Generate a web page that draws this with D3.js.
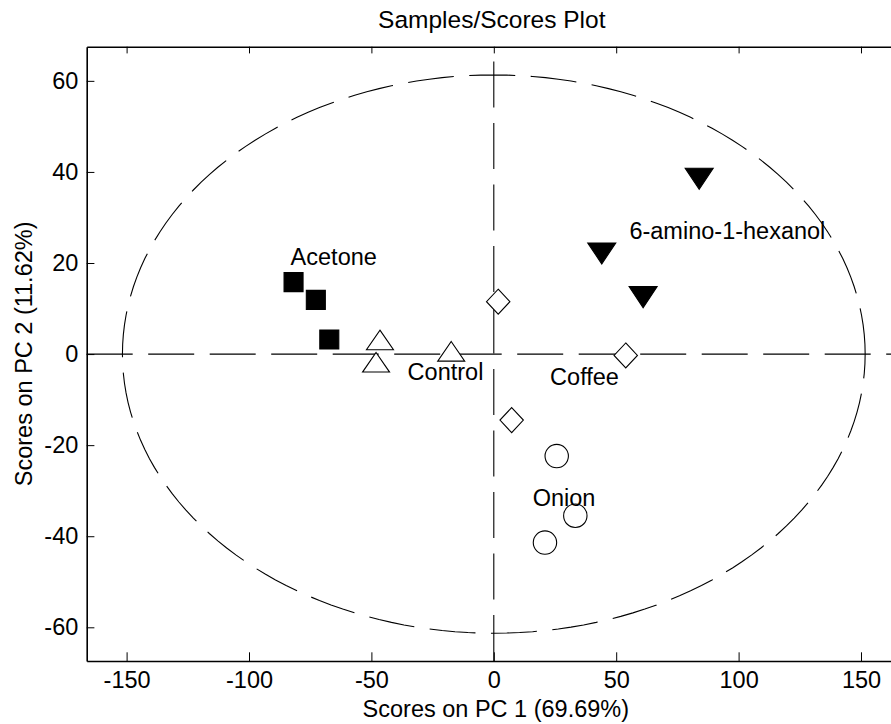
<!DOCTYPE html>
<html>
<head>
<meta charset="utf-8">
<script src="https://cdn.jsdelivr.net/npm/d3@7"></script>
<style>
  body { margin: 0; background: #fff; overflow: hidden; }
  svg { display: block; font-family: "Liberation Sans", Arial, sans-serif; }
</style>
</head>
<body>
<div id="scores"></div>
<script>
// sample groups and their PCA scores
const groups = ["Acetone", "Control", "Coffee", "Onion", "6-amino-1-hexanol"];
const acetonePC1 = [-81.8, -72.7, -67.2];
const acetonePC2 = [15.8, 11.9, 3.2];
const controlPC1 = [-46.5, -48.1, -17.4];
const controlPC2 = [3.1, -1.8, 0.6];
const coffeePC1 = [1.8, 53.9, 7.3];
const coffeePC2 = [11.5, -0.3, -14.5];
const onionPC1 = [25.7, 33.3, 20.9];
const onionPC2 = [-22.4, -35.5, -41.4];
const aminoPC1 = [83.9, 44.1, 61.0];
const aminoPC2 = [38.5, 22.1, 12.5];

// where each group name is written (data units, text start / baseline)
const labelPC1 = [-83.0, -35.2, 23.0, 15.9, 55.4];
const labelPC2 = [19.6, -5.6, -6.7, -33.4, 25.3];

// 95% confidence ellipse radii
const ellipsePC1 = 151.7, ellipsePC2 = 61.3;

const xTicks = [-150, -100, -50, 0, 50, 100, 150];
const yTicks = [-60, -40, -20, 0, 20, 40, 60];

const margin = {top: 46.7, left: 86.7},
    width = 814.2,
    height = 614.3;

const svg = d3.select("#scores")
    .append("svg")
    .attr("width", 891)
    .attr("height", 724);

const g = svg.append("g")
    .attr("transform", "translate(" + margin.left + "," + margin.top + ")");

const x = d3.scaleLinear().domain([-166.3, 166.3]).range([0, width]);
const y = d3.scaleLinear().domain([-67.4, 67.5]).range([height, 0]);

const fontSize = "23.5px";
const dash = "46,15.5";

// dashed zero lines
g.append("line")
    .attr("x1", 0).attr("x2", width)
    .attr("y1", y(0)).attr("y2", y(0))
    .attr("stroke", "#000").attr("stroke-width", 1.1)
    .attr("stroke-dasharray", dash);
g.append("line")
    .attr("x1", x(0)).attr("x2", x(0))
    .attr("y1", height).attr("y2", 0)
    .attr("stroke", "#000").attr("stroke-width", 1.1)
    .attr("stroke-dasharray", dash);

// confidence ellipse, drawn as a polyline starting on the right
const angles = d3.range(0, 361, 2);
g.append("path")
    .datum(angles)
    .attr("d", d3.line()
        .x(a => x(ellipsePC1 * Math.cos(a * Math.PI / 180)))
        .y(a => y(ellipsePC2 * Math.sin(a * Math.PI / 180))))
    .attr("fill", "none")
    .attr("stroke", "#000").attr("stroke-width", 1.1)
    .attr("stroke-dasharray", dash);

// marker shapes, centred on the point
const shapes = {
    square: "M-9.5,-9.5H9.5V9.5H-9.5Z",
    triUp: "M0,-9.8L13.5,9.8L-13.5,9.8Z",
    diamond: "M0,-12.5L11.7,0L0,12.5L-11.7,0Z",
    circle: "M11.7,0A11.7,11.7 0 1,1 -11.7,0A11.7,11.7 0 1,1 11.7,0Z",
    triDown: "M-14,-10.5L14,-10.5L0,10.5Z"
};

const series = [
    {name: groups[0], px: acetonePC1, py: acetonePC2, shape: "square", fill: "#000"},
    {name: groups[1], px: controlPC1, py: controlPC2, shape: "triUp", fill: "#fff"},
    {name: groups[2], px: coffeePC1, py: coffeePC2, shape: "diamond", fill: "#fff"},
    {name: groups[3], px: onionPC1, py: onionPC2, shape: "circle", fill: "#fff"},
    {name: groups[4], px: aminoPC1, py: aminoPC2, shape: "triDown", fill: "#000"}
];

series.forEach(function (s) {
    g.append("g")
        .selectAll("path")
        .data(s.px.map((v, i) => [v, s.py[i]]))
        .join("path")
        .attr("transform", d => "translate(" + x(d[0]) + "," + y(d[1]) + ")")
        .attr("d", shapes[s.shape])
        .attr("fill", s.fill)
        .attr("stroke", "#000")
        .attr("stroke-width", 1.1);
});

// group labels
g.selectAll("text.grp")
    .data(groups)
    .join("text")
    .attr("class", "grp")
    .attr("x", (d, i) => x(labelPC1[i]))
    .attr("y", (d, i) => y(labelPC2[i]))
    .style("font-size", fontSize)
    .attr("fill", "#000")
    .text(d => d);

// axes, ticks pointing inwards; plain hyphen for negatives like the original
const plain = d => String(d);
const axBottom = g.append("g")
    .attr("transform", "translate(0," + height + ")")
    .call(d3.axisBottom(x).tickValues(xTicks).tickFormat(plain)
        .tickSizeInner(-8.7).tickSizeOuter(0).tickPadding(10.3));
const axLeft = g.append("g")
    .call(d3.axisLeft(y).tickValues(yTicks).tickFormat(plain)
        .tickSizeInner(-7.7).tickSizeOuter(0).tickPadding(8.4));
const axTop = g.append("g")
    .call(d3.axisTop(x).tickValues(xTicks).tickSizeInner(-6.7).tickSizeOuter(0).tickFormat(""));
const axRight = g.append("g")
    .attr("transform", "translate(" + width + ",0)")
    .call(d3.axisRight(y).tickValues(yTicks).tickSizeInner(-6.7).tickSizeOuter(0).tickFormat(""));

[axBottom, axLeft, axTop, axRight].forEach(function (a) {
    a.select(".domain").attr("stroke", "#000").attr("stroke-width", 1.6);
    a.selectAll(".tick line").attr("stroke", "#000").attr("stroke-width", 1);
    a.selectAll(".tick text")
        .attr("fill", "#000")
        .style("font-size", fontSize)
        .style("font-family", "'Liberation Sans', Arial, sans-serif");
});

// titles
svg.append("text")
    .attr("x", margin.left + width / 2 - 2)
    .attr("y", 28)
    .attr("text-anchor", "middle")
    .style("font-size", "24.5px")
    .text("Samples/Scores Plot");

svg.append("text")
    .attr("x", margin.left + width / 2 + 2)
    .attr("y", 717)
    .attr("text-anchor", "middle")
    .style("font-size", fontSize)
    .text("Scores on PC 1 (69.69%)");

svg.append("text")
    .attr("transform", "translate(31.7," + (margin.top + height / 2) + ") rotate(-90)")
    .attr("text-anchor", "middle")
    .style("font-size", fontSize)
    .text("Scores on PC 2 (11.62%)");
</script>
</body>
</html>
